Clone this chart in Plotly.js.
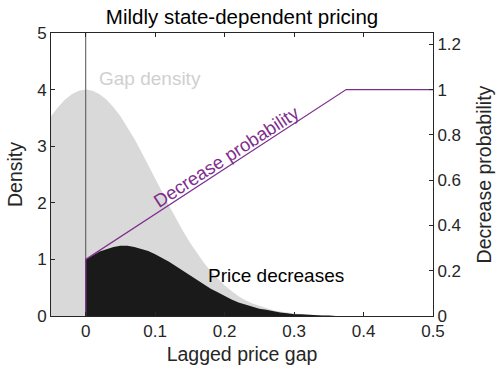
<!DOCTYPE html>
<html>
<head>
<meta charset="utf-8">
<script src="https://cdn.plot.ly/plotly-3.0.1.min.js"></script>
<style>
  html, body { margin: 0; padding: 0; background: #fff; }
  #chart { width: 497px; height: 374px; }
</style>
</head>
<body>
<div id="chart"></div>
<script>
// Lagged price gap grid and the distribution of gaps across firms
const gapX = [-0.05, -0.04, -0.03, -0.02, -0.01, 0, 0.01, 0.02, 0.03, 0.04, 0.05, 0.06, 0.07, 0.08, 0.09,
  0.10, 0.11, 0.12, 0.13, 0.14, 0.15, 0.16, 0.17, 0.18, 0.19, 0.20, 0.21, 0.22, 0.23, 0.24, 0.25,
  0.26, 0.27, 0.28, 0.29, 0.30, 0.31, 0.32, 0.33, 0.34, 0.35, 0.36, 0.40, 0.45, 0.50];
const gapDensity = [3.53, 3.69, 3.82, 3.92, 3.98, 4.00, 3.98, 3.92, 3.82, 3.69, 3.53, 3.34, 3.13, 2.90, 2.67,
  2.43, 2.19, 1.95, 1.72, 1.50, 1.30, 1.11, 0.94, 0.79, 0.66, 0.54, 0.44, 0.35, 0.28, 0.22, 0.18,
  0.14, 0.10, 0.08, 0.06, 0.04, 0.03, 0.02, 0.02, 0.01, 0.01, 0, 0, 0, 0];

// Mass of firms that actually cut their price (positive gaps only)
const decX = [0, 0.01, 0.02, 0.03, 0.04, 0.05, 0.06, 0.07, 0.08, 0.09, 0.10, 0.11, 0.12, 0.13, 0.14,
  0.15, 0.16, 0.17, 0.18, 0.19, 0.20, 0.21, 0.22, 0.23, 0.24, 0.25, 0.26, 0.27, 0.28, 0.29, 0.30,
  0.31, 0.32, 0.33, 0.34, 0.35, 0.36, 0.40, 0.45, 0.50];
const decDensity = [1.00, 1.07, 1.14, 1.18, 1.22, 1.24, 1.24, 1.22, 1.19, 1.15, 1.09, 1.03, 0.96, 0.88, 0.80,
  0.72, 0.63, 0.55, 0.48, 0.42, 0.35, 0.29, 0.24, 0.20, 0.16, 0.13, 0.11, 0.08, 0.06, 0.05, 0.03,
  0.03, 0.02, 0.02, 0.01, 0.01, 0, 0, 0, 0];

// Hazard of a price decrease as a function of the gap
const probX = [0, 0, 0.375, 0.5];
const probY = [0, 0.25, 1, 1];

const xTicks = [0, 0.1, 0.2, 0.3, 0.4, 0.5];
const yTicks = [0, 1, 2, 3, 4, 5];
const y2Ticks = [0, 0.2, 0.4, 0.6, 0.8, 1, 1.2];

const FONT = 'Liberation Sans, Arial, sans-serif';
const AX = '#262626';
const PURPLE = '#7E2F8E';

const traces = [
  {
    x: gapX, y: gapDensity, type: 'scatter', mode: 'lines',
    fill: 'tozeroy', fillcolor: '#d9d9d9', line: {width: 0, color: '#d9d9d9'},
    hoverinfo: 'skip'
  },
  {
    x: decX, y: decDensity, type: 'scatter', mode: 'lines',
    fill: 'tozeroy', fillcolor: '#1a1a1a', line: {width: 0, color: '#1a1a1a'},
    hoverinfo: 'skip'
  },
  {
    x: [0, 0], y: [0, 5], type: 'scatter', mode: 'lines',
    line: {width: 1, color: '#505050'}, hoverinfo: 'skip'
  },
  {
    x: probX, y: probY, type: 'scatter', mode: 'lines', yaxis: 'y2',
    line: {width: 1.2, color: PURPLE}, hoverinfo: 'skip'
  }
];

const layout = {
  width: 497, height: 374,
  margin: {l: 51, r: 64, t: 33, b: 58},
  paper_bgcolor: '#fff', plot_bgcolor: '#fff',
  showlegend: false,
  font: {family: FONT, color: '#000', size: 17},
  title: {
    text: 'Mildly state-dependent pricing',
    font: {family: FONT, size: 20.5, color: '#000'},
    x: 0.487, xanchor: 'center', y: 0.955, yanchor: 'middle'
  },
  xaxis: {
    range: [-0.05, 0.5], tickvals: xTicks, ticktext: xTicks.map(String),
    ticks: 'inside', ticklen: 4, tickcolor: AX, tickwidth: 1,
    showline: true, linecolor: AX, linewidth: 1, mirror: 'ticks',
    showgrid: false, zeroline: false,
    tickfont: {family: FONT, size: 17, color: '#262626'},
    title: {text: 'Lagged price gap', font: {family: FONT, size: 19.5, color: '#262626'}, standoff: 6}
  },
  yaxis: {
    range: [0, 5], tickvals: yTicks, ticktext: yTicks.map(String),
    ticks: 'inside', ticklen: 4, tickcolor: AX, tickwidth: 1,
    showline: true, linecolor: AX, linewidth: 1,
    showgrid: false, zeroline: false,
    tickfont: {family: FONT, size: 17, color: '#262626'},
    title: {text: 'Density', font: {family: FONT, size: 19.5, color: '#262626'}, standoff: 9}
  },
  yaxis2: {
    overlaying: 'y', side: 'right',
    range: [0, 1.25], tickvals: y2Ticks, ticktext: y2Ticks.map(String),
    ticks: 'inside', ticklen: 4, tickcolor: AX, tickwidth: 1,
    showline: true, linecolor: AX, linewidth: 1,
    showgrid: false, zeroline: false,
    tickfont: {family: FONT, size: 17, color: '#262626'},
    title: {text: 'Decrease probability', font: {family: FONT, size: 19.5, color: '#262626'}, standoff: 17}
  },
  annotations: [
    {
      x: 0.092, y: 4.19, xref: 'x', yref: 'y', text: 'Gap density', showarrow: false,
      font: {family: FONT, size: 19, color: '#d0d0d0'}
    },
    {
      x: 0.274, y: 0.72, xref: 'x', yref: 'y', text: 'Price decreases', showarrow: false,
      font: {family: FONT, size: 19, color: '#000'}
    },
    {
      x: 0.203, y: 2.81, xref: 'x', yref: 'y', text: 'Decrease probability', showarrow: false,
      textangle: -33, font: {family: FONT, size: 18.5, color: PURPLE}
    }
  ]
};

Plotly.newPlot('chart', traces, layout, {staticPlot: true, displayModeBar: false});
</script>
</body>
</html>
